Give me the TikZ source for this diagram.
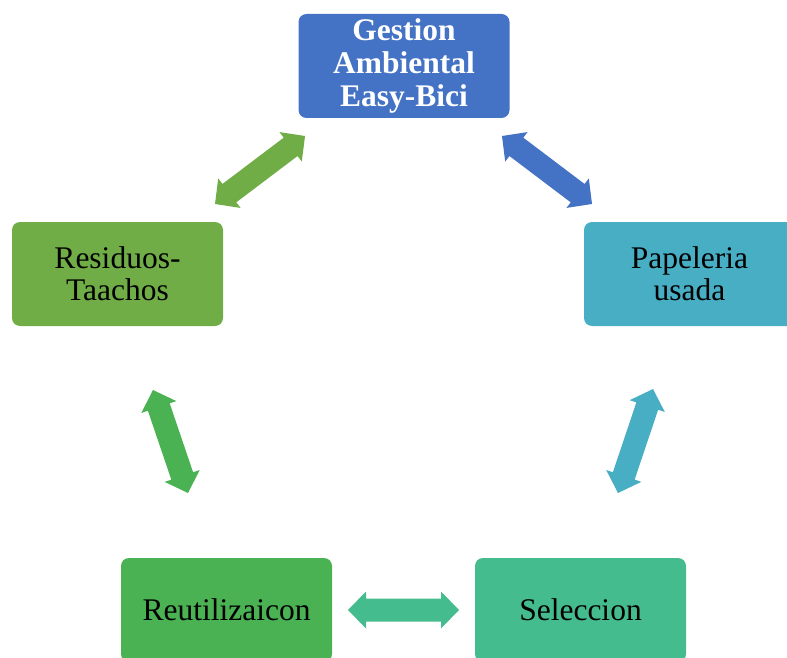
\documentclass[tikz,border=0pt]{standalone}
\usepackage{fontspec}
\setmainfont{Liberation Serif}
\usetikzlibrary{calc}
\definecolor{cblue}{HTML}{4472C4}
\definecolor{cgreen}{HTML}{70AD47}
\definecolor{cteal}{HTML}{47AEC4}
\definecolor{cgreenb}{HTML}{4AB253}
\definecolor{cmint}{HTML}{45BC8D}
\tikzset{
  box/.style={rectangle, rounded corners=8pt, minimum width=211pt, minimum height=104pt,
    inner sep=0pt, text width=205pt, align=center, font=\fontsize{31.5}{32}\selectfont},
}
\newcommand\blockarrow[3]{%
  \fill[#3] (#1) -- ($(#1)!18pt!(#2)!18.5pt!90:(#2)$) -- ($(#1)!18pt!(#2)!11.5pt!90:(#2)$)
    -- ($(#2)!18pt!(#1)!11.5pt!-90:(#1)$) -- ($(#2)!18pt!(#1)!18.5pt!-90:(#1)$) -- (#2)
    -- ($(#2)!18pt!(#1)!18.5pt!90:(#1)$) -- ($(#2)!18pt!(#1)!11.5pt!90:(#1)$)
    -- ($(#1)!18pt!(#2)!11.5pt!-90:(#2)$) -- ($(#1)!18pt!(#2)!18.5pt!-90:(#2)$) -- cycle;}
\begin{document}
\begin{tikzpicture}[x=1pt,y=-1pt]
\useasboundingbox (0,0) rectangle (787,658);
\clip (0,0) rectangle (787,658);
\node[box, fill=cblue, text=white, font=\bfseries\fontsize{31.5}{33}\selectfont] (top) at (404,66) {Gestion\\Ambiental\\Easy-Bici};
\node[box, fill=cgreen] (left) at (117.5,274) {Residuos-\\Taachos};
\node[box, fill=cteal] (right) at (689.5,274) {Papeleria\\usada};
\node[box, fill=cgreenb] (bl) at (226.5,610) {Reutilizaicon};
\node[box, fill=cmint] (br) at (580.5,610) {Seleccion};
\coordinate (a1s) at (215,204); \coordinate (a1e) at (305,136);
\coordinate (a2s) at (502,136); \coordinate (a2e) at (592,204);
\coordinate (a3s) at (153,390); \coordinate (a3e) at (188,493);
\coordinate (a4s) at (653,389); \coordinate (a4e) at (618,493);
\coordinate (a5s) at (348,610); \coordinate (a5e) at (459,610);
\blockarrow{a1s}{a1e}{cgreen}
\blockarrow{a2s}{a2e}{cblue}
\blockarrow{a3s}{a3e}{cgreenb}
\blockarrow{a4s}{a4e}{cteal}
\blockarrow{a5s}{a5e}{cmint}
\end{tikzpicture}
\end{document}
